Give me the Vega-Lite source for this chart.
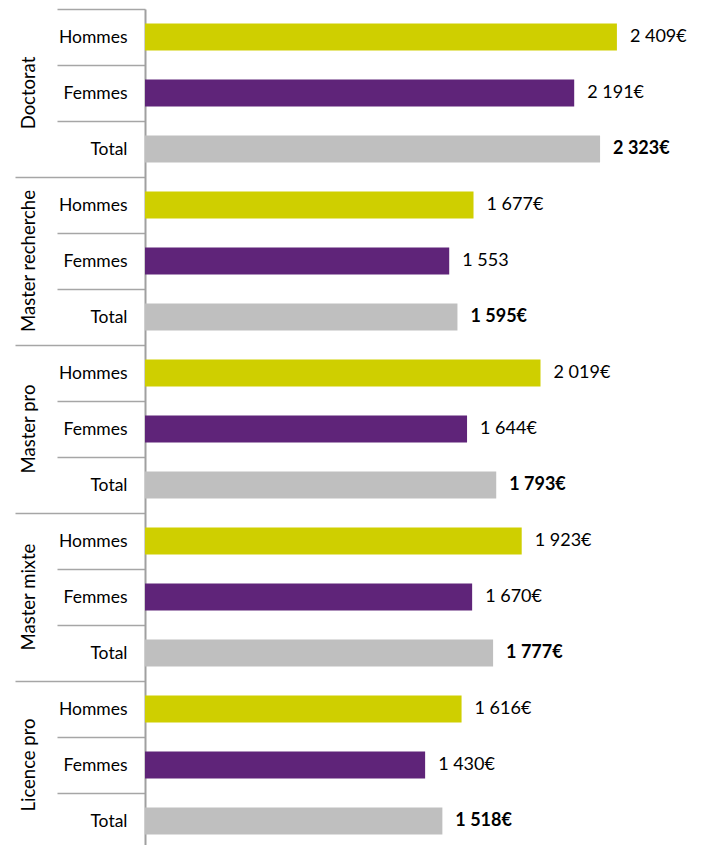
{
  "$schema": "https://vega.github.io/schema/vega-lite/v6.json",
  "width": 563,
  "height": 840,
  "autosize": {"type": "none"},
  "padding": {"left": 145, "top": 9, "right": 0, "bottom": 0},
  "config": {"view": {"stroke": null}, "font": "Lato", "axis": {"labelFont": "Lato"}},
  "data": {
    "values": [
      {"group": "Doctorat", "sub": "Hommes", "key": "Doctorat|Hommes", "value": 2409, "label": "2 409€"},
      {"group": "Doctorat", "sub": "Femmes", "key": "Doctorat|Femmes", "value": 2191, "label": "2 191€"},
      {"group": "Doctorat", "sub": "Total", "key": "Doctorat|Total", "value": 2323, "label": "2 323€"},
      {"group": "Master recherche", "sub": "Hommes", "key": "Master recherche|Hommes", "value": 1677, "label": "1 677€"},
      {"group": "Master recherche", "sub": "Femmes", "key": "Master recherche|Femmes", "value": 1553, "label": "1 553"},
      {"group": "Master recherche", "sub": "Total", "key": "Master recherche|Total", "value": 1595, "label": "1 595€"},
      {"group": "Master pro", "sub": "Hommes", "key": "Master pro|Hommes", "value": 2019, "label": "2 019€"},
      {"group": "Master pro", "sub": "Femmes", "key": "Master pro|Femmes", "value": 1644, "label": "1 644€"},
      {"group": "Master pro", "sub": "Total", "key": "Master pro|Total", "value": 1793, "label": "1 793€"},
      {"group": "Master mixte", "sub": "Hommes", "key": "Master mixte|Hommes", "value": 1923, "label": "1 923€"},
      {"group": "Master mixte", "sub": "Femmes", "key": "Master mixte|Femmes", "value": 1670, "label": "1 670€"},
      {"group": "Master mixte", "sub": "Total", "key": "Master mixte|Total", "value": 1777, "label": "1 777€"},
      {"group": "Licence pro", "sub": "Hommes", "key": "Licence pro|Hommes", "value": 1616, "label": "1 616€"},
      {"group": "Licence pro", "sub": "Femmes", "key": "Licence pro|Femmes", "value": 1430, "label": "1 430€"},
      {"group": "Licence pro", "sub": "Total", "key": "Licence pro|Total", "value": 1518, "label": "1 518€"}
    ]
  },
  "layer": [
    {
      "mark": {"type": "bar", "height": {"band": 0.48}},
      "encoding": {
        "x": {"field": "value", "type": "quantitative", "scale": {"domain": [0, 2874], "nice": false}, "axis": null},
        "y": {
          "field": "key", "type": "nominal", "sort": null,
          "scale": {"paddingInner": 0, "paddingOuter": 0},
          "axis": {
            "orient": "left", "title": null,
            "labelExpr": "split(datum.value,'|')[1]",
            "labelAlign": "right", "labelBaseline": "middle",
            "labelFontSize": 17.5, "labelColor": "#000000",
            "labelPadding": -112,
            "tickSize": 130, "tickBand": "extent",
            "tickColor": "#a6a6a6", "tickWidth": 1.5,
            "tickDash": {"condition": {"test": "indexof(''+datum.value,'Total')<0 && datum.index<1", "value": [88, 300]}, "value": []},
            "domainColor": "#a0a0a0", "domainWidth": 2
          }
        },
        "color": {
          "field": "sub", "type": "nominal",
          "scale": {"domain": ["Hommes", "Femmes", "Total"], "range": ["#cfcf00", "#5f2479", "#bfbfbf"]},
          "legend": null
        }
      }
    },
    {
      "mark": {"type": "text", "align": "left", "baseline": "middle", "dx": 13, "fontSize": 18, "color": "#000000"},
      "encoding": {
        "x": {"field": "value", "type": "quantitative"},
        "y": {
          "field": "key", "type": "nominal", "sort": null,
          "axis": {
            "orient": "left", "title": null,
            "labelExpr": "indexof(datum.value,'|Femmes')>=0 ? split(datum.value,'|')[0] : ''",
            "labelAngle": 270, "labelAlign": "center", "labelBaseline": "alphabetic",
            "labelPadding": 111, "ticks": false, "domain": false,
            "labelFontSize": 18.5, "labelColor": "#000000"
          }
        },
        "text": {"field": "label", "type": "nominal", "condition": {"test": "datum.sub === 'Total'", "value": ""}}
      }
    },
    {
      "mark": {"type": "text", "align": "left", "baseline": "middle", "dx": 13, "fontSize": 18, "fontWeight": "bold", "color": "#000000"},
      "encoding": {
        "x": {"field": "value", "type": "quantitative"},
        "y": {"field": "key", "type": "nominal", "sort": null, "axis": null},
        "text": {"field": "label", "type": "nominal", "condition": {"test": "datum.sub !== 'Total'", "value": ""}}
      }
    }
  ],
  "resolve": {"axis": {"y": "independent"}}
}
